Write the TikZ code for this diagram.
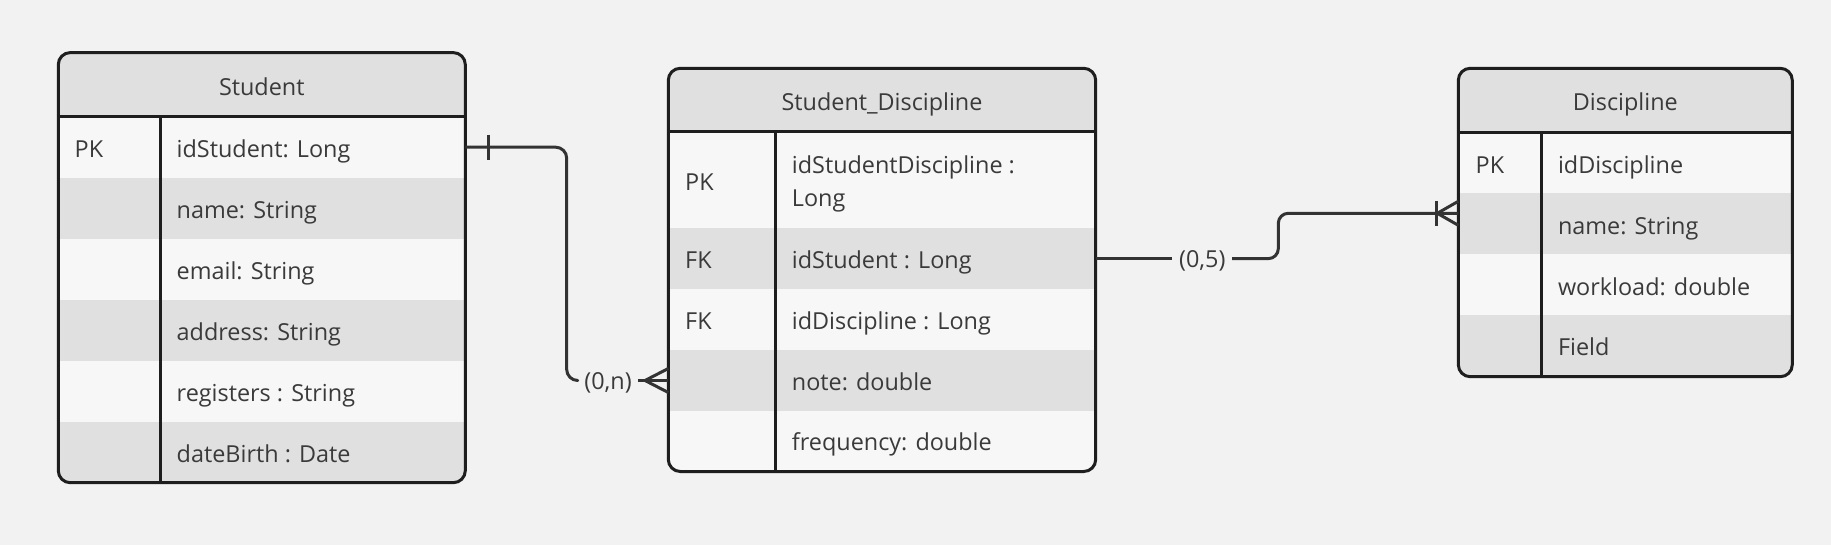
\documentclass[tikz,border=0pt]{standalone}
\usepackage{fontspec}
\setmainfont{Open Sans}
\usetikzlibrary{calc}
\definecolor{bg}{HTML}{F2F2F2}
\definecolor{rowlight}{HTML}{F7F7F7}
\definecolor{rowdark}{HTML}{E0E0E0}
\definecolor{edgec}{HTML}{1E1E1E}
\definecolor{txt}{HTML}{3A3A3A}
\definecolor{wirec}{HTML}{333333}
\tikzset{
  cell/.style={rectangle, inner sep=0pt, outer sep=0pt, draw=none},
  lightcell/.style={cell, fill=rowlight},
  darkcell/.style={cell, fill=rowdark},
  headcell/.style={cell, fill=rowdark, font=\fontsize{23.4}{28}\selectfont, text=txt, text height=21pt, text depth=0pt},
  celltext/.style={anchor=west, inner sep=0pt, text height=20pt, text depth=0pt, font=\fontsize{23.4}{28}\selectfont, text=txt},
  frame/.style={draw=edgec, line width=3pt, rounded corners=12pt},
  rulel/.style={draw=edgec, line width=3pt},
  wire/.style={draw=wirec, line width=3pt, line join=round},
  card/.style={inner xsep=6.5pt, inner ysep=2pt, text height=17pt, text depth=0pt, font=\fontsize{23.4}{28}\selectfont, text=txt}
}
\begin{document}
\begin{tikzpicture}[x=1pt, y=-1pt]
\useasboundingbox (0,0) rectangle (1831,545);
\fill[bg] (0,0) rectangle (1831,545);

% ---------------- Student ----------------
\begin{scope}
\clip[rounded corners=12pt] (58.3,52.6) rectangle (465.3,482.7);
\node[headcell, minimum width=407pt, minimum height=64.1pt] (sth) at (261.8,84.65) {Student};
\node[lightcell, minimum width=407pt, minimum height=61pt] (st1) at (261.8,147.2) {};
\node[darkcell,  minimum width=407pt, minimum height=61pt] (st2) at (261.8,208.2) {};
\node[lightcell, minimum width=407pt, minimum height=61pt] (st3) at (261.8,269.2) {};
\node[darkcell,  minimum width=407pt, minimum height=61pt] (st4) at (261.8,330.2) {};
\node[lightcell, minimum width=407pt, minimum height=61pt] (st5) at (261.8,391.2) {};
\node[darkcell,  minimum width=407pt, minimum height=61pt] (st6) at (261.8,452.2) {};
\end{scope}
\draw[rulel] (sth.south west) -- (sth.south east);
\draw[rulel] (160,116.7) -- (160,482.7);
\draw[frame] (58.3,52.6) rectangle (465.3,482.7);
\node[celltext] (stk1) at (74.5,147.7) {PK};
\node[celltext] (stf1) at (176.5,147.7) {idStudent: Long};
\node[celltext] (stf2) at (176.5,208.7) {name: String};
\node[celltext] (stf3) at (176.5,269.7) {email: String};
\node[celltext] (stf4) at (176.5,330.7) {address: String};
\node[celltext] (stf5) at (176.5,391.7) {registers : String};
\node[celltext] (stf6) at (176.5,452.2) {dateBirth : Date};

% ---------------- Student_Discipline ----------------
\begin{scope}
\clip[rounded corners=12pt] (668.3,68.3) rectangle (1095.7,471.5);
\node[headcell, minimum width=427.4pt, minimum height=63.4pt] (sdh) at (882,100) {Student\_Discipline};
\node[lightcell, minimum width=427.4pt, minimum height=96.6pt] (sd1) at (882,180) {};
\node[darkcell,  minimum width=427.4pt, minimum height=60.7pt] (sd2) at (882,258.65) {};
\node[lightcell, minimum width=427.4pt, minimum height=61pt] (sd3) at (882,319.5) {};
\node[darkcell,  minimum width=427.4pt, minimum height=61pt] (sd4) at (882,380.5) {};
\node[lightcell, minimum width=427.4pt, minimum height=60.5pt] (sd5) at (882,441.25) {};
\end{scope}
\draw[rulel] (sdh.south west) -- (sdh.south east);
\draw[rulel] (775.7,131.7) -- (775.7,471.5);
\draw[frame] (668.3,68.3) rectangle (1095.7,471.5);
\node[celltext] (sdk1) at (685,180.5) {PK};
\node[celltext] (sdf1a) at (791.7,163.5) {idStudentDiscipline :};
\node[celltext] (sdf1b) at (791.7,196.5) {Long};
\node[celltext] (sdk2) at (685,258.9) {FK};
\node[celltext] (sdf2) at (791.7,258.9) {idStudent : Long};
\node[celltext] (sdk3) at (685,319.7) {FK};
\node[celltext] (sdf3) at (791.7,319.7) {idDiscipline : Long};
\node[celltext] (sdf4) at (791.7,380.7) {note: double};
\node[celltext] (sdf5) at (791.7,440.5) {frequency: double};

% ---------------- Discipline ----------------
\begin{scope}
\clip[rounded corners=12pt] (1458.3,68.3) rectangle (1792.3,376.7);
\node[headcell, minimum width=334pt, minimum height=64pt] (dch) at (1625.3,100.3) {Discipline};
\node[lightcell, minimum width=334pt, minimum height=61pt] (dc1) at (1625.3,162.8) {};
\node[darkcell,  minimum width=334pt, minimum height=61pt] (dc2) at (1625.3,223.8) {};
\node[lightcell, minimum width=334pt, minimum height=61pt] (dc3) at (1625.3,284.8) {};
\node[darkcell,  minimum width=334pt, minimum height=61.4pt] (dc4) at (1625.3,346) {};
\end{scope}
\draw[rulel] (dch.south west) -- (dch.south east);
\draw[rulel] (1541,132.3) -- (1541,376.7);
\draw[frame] (1458.3,68.3) rectangle (1792.3,376.7);
\node[celltext] (dck1) at (1475.5,163.3) {PK};
\node[celltext] (dcf1) at (1557.8,163.3) {idDiscipline};
\node[celltext] (dcf2) at (1557.8,224.3) {name: String};
\node[celltext] (dcf3) at (1557.8,285.3) {workload: double};
\node[celltext] (dcf4) at (1557.8,345.8) {Field};

% ---------------- Connector Student -> Student_Discipline ----------------
\node[card] (lab1) at (608,380.5) {(0,n)};
\coordinate (k1) at (566.7,147.2);
\draw[wire, rounded corners=11pt] (st1.east) -- (k1) -- (k1 |- sd4.west) -- (lab1.west);
\draw[wire] (lab1.east) -- (sd4.west);
\draw[wire] ($(st1.east)+(23,-12.5)$) -- ($(st1.east)+(23,13)$);
\draw[wire] ($(sd4.west)+(0,-12)$) -- ($(sd4.west)+(-23.3,0)$) -- ($(sd4.west)+(0,12)$);

% ---------------- Connector Student_Discipline -> Discipline ----------------
\node[card] (lab2) at (1202.3,258.65) {(0,5)};
\coordinate (dcin) at ($(dc2.west)+(0,-10.5)$);
\coordinate (k2) at (1278.3,213.3);
\draw[wire] (sd2.east) -- (lab2.west);
\draw[wire, rounded corners=10pt] (lab2.east) -- (k2 |- lab2.east) -- (k2 |- dcin) -- (dcin);
\draw[wire] ($(dcin)+(-21.5,-12.5)$) -- ($(dcin)+(-21.5,12.5)$);
\draw[wire] ($(dcin)+(0,-12)$) -- ($(dcin)+(-21,0)$) -- ($(dcin)+(0,12)$);
\end{tikzpicture}
\end{document}
